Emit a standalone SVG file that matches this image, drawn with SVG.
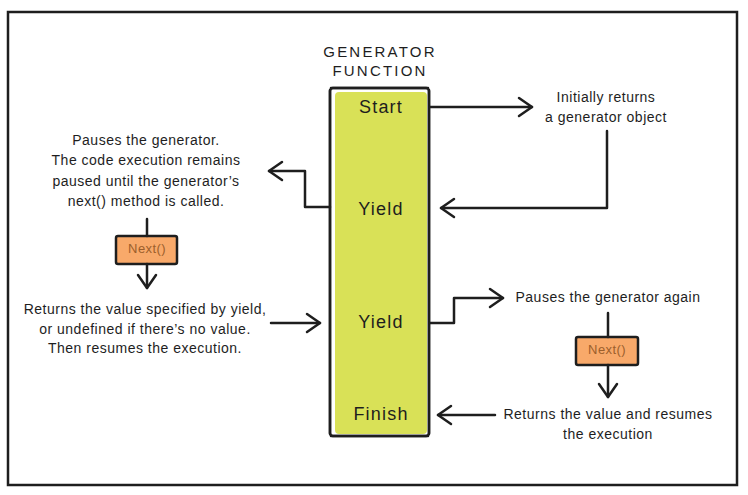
<svg xmlns="http://www.w3.org/2000/svg" width="748" height="495" viewBox="0 0 748 495">
<style>
.t{font-family:"Liberation Sans","Open Sans",sans-serif;font-size:14px;fill:#1e1e1e;text-anchor:middle;dominant-baseline:middle;letter-spacing:0.5px}
.lbl{font-family:"Liberation Sans",sans-serif;font-size:18px;fill:#1e1e1e;text-anchor:middle;dominant-baseline:middle;letter-spacing:1.2px}
.ttl{font-family:"Liberation Sans",sans-serif;font-size:15px;fill:#1e1e1e;text-anchor:middle;dominant-baseline:middle;letter-spacing:2.2px}
.nx{font-family:"Liberation Sans",sans-serif;font-size:13px;fill:#9c5f2c;text-anchor:middle;dominant-baseline:middle;letter-spacing:0.4px}
.ln{fill:none;stroke:#1e1e1e;stroke-width:2.5;stroke-linejoin:round;stroke-linecap:round}
.box{fill:#f8a96a;stroke:#1e1e1e;stroke-width:2.5}
</style>
<defs>
<marker id="ah" markerUnits="userSpaceOnUse" markerWidth="20" markerHeight="24" refX="15" refY="11" orient="auto">
<path d="M2,2 L15,11 L2,20" fill="none" stroke="#1e1e1e" stroke-width="2.5" stroke-linecap="round" stroke-linejoin="round"/>
</marker>
</defs>
<rect x="0" y="0" width="748" height="495" fill="#fff"/>
<rect x="8" y="12" width="729" height="473" fill="none" stroke="#1e1e1e" stroke-width="2.5"/>

<g id="generator-function">
<text class="ttl" x="380" y="53">GENERATOR</text>
<text class="ttl" x="380" y="72">FUNCTION</text>
<rect x="330" y="88" width="99" height="348" rx="3" fill="#fff" stroke="#1e1e1e" stroke-width="2.5"/>
<rect x="335" y="92" width="92" height="342" rx="4" fill="#d9e157"/>
<path d="M330,90 V434 M429,90 V434 M331,88 H428 M331,436 H428" class="ln"/>
</g>
<g id="start"><text class="lbl" x="381" y="108">Start</text></g>
<g id="yield1"><text class="lbl" x="381" y="210">Yield</text></g>
<g id="yield2"><text class="lbl" x="381" y="323">Yield</text></g>
<g id="finish"><text class="lbl" x="381" y="415">Finish</text></g>

<g id="initially-returns">
<text class="t" x="606" y="98">Initially returns</text>
<text class="t" x="606" y="118">a generator object</text>
</g>
<g id="pauses-generator">
<text class="t" x="146" y="141">Pauses the generator.</text>
<text class="t" x="146" y="161">The code execution remains</text>
<text class="t" x="146" y="182">paused until the generator’s</text>
<text class="t" x="146" y="202">next() method is called.</text>
</g>
<g id="next-left">
<rect class="box" x="116" y="236" width="61" height="28" rx="2"/>
<text class="nx" x="147" y="250">Next()</text>
</g>
<g id="returns-value-left">
<text class="t" x="145" y="310">Returns the value specified by yield,</text>
<text class="t" x="145" y="330">or undefined if there’s no value.</text>
<text class="t" x="145" y="349">Then resumes the execution.</text>
</g>
<g id="pauses-again">
<text class="t" x="608" y="298">Pauses the generator again</text>
</g>
<g id="next-right">
<rect class="box" x="576" y="337" width="62" height="28" rx="2"/>
<text class="nx" x="607" y="351">Next()</text>
</g>
<g id="returns-value-right">
<text class="t" x="608" y="415">Returns the value and resumes</text>
<text class="t" x="608" y="435">the execution</text>
</g>

<g id="connectors">
<path class="ln" d="M430,107 H532" marker-end="url(#ah)"/>
<path class="ln" d="M607,131 V208 H441" marker-end="url(#ah)"/>
<path class="ln" d="M330,207 H305 V171 H269" marker-end="url(#ah)"/>
<path class="ln" d="M147,219 V236"/>
<path class="ln" d="M147,264 V288" marker-end="url(#ah)"/>
<path class="ln" d="M271,323 H320" marker-end="url(#ah)"/>
<path class="ln" d="M430,323 H454 V298 H503" marker-end="url(#ah)"/>
<path class="ln" d="M608,313 V337"/>
<path class="ln" d="M608,365 V397" marker-end="url(#ah)"/>
<path class="ln" d="M495,415 H438" marker-end="url(#ah)"/>
</g>
</svg>
